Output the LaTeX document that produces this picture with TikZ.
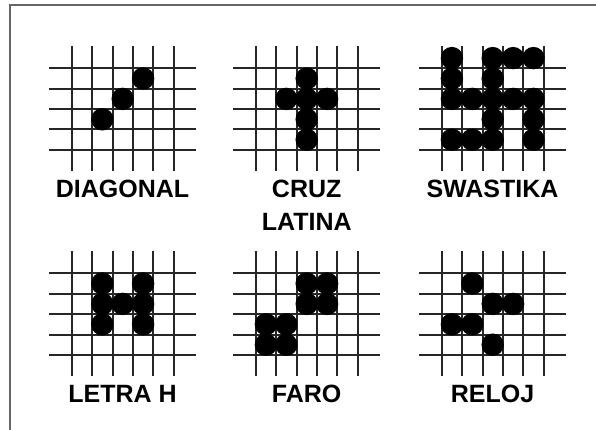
\documentclass[tikz,border=0pt]{standalone}
\usepackage{fontspec}
\setmainfont{Liberation Sans}
\usetikzlibrary{positioning}

\begin{document}
\begin{tikzpicture}[
        x=1pt, y=-1pt,
        rejilla/.style={x=20.4pt, y=-20.4pt},
        linea/.style={line width=2pt, draw=black!85},
        ficha/.style={fill=black},
        marco/.style={line width=2pt, draw=black!60},
        titulo/.style={
            font=\fontsize{25}{33}\selectfont\bfseries,
            align=center,
            inner sep=0pt
        }
    ]
        \useasboundingbox (0,0) rectangle (596,430);
        \draw[marco] (10,430) -- (10,5.5) -- (596,5.5);

        % fila superior
        \begin{scope}[shift={(71.7pt,-68.3pt)}, rejilla]
            \foreach \i in {0,...,5} \draw[linea] (\i,-1.1) -- (\i,5.05);
            \foreach \j in {0,...,4} \draw[linea] (-1.1,\j) -- (6.1,\j);
            \foreach \p in {(1.5,2.5),(2.5,1.5),(3.5,0.5)}
                \fill[ficha] \p circle (0.55);
        \end{scope}
        \begin{scope}[shift={(255.7pt,-68.3pt)}, rejilla]
            \foreach \i in {0,...,5} \draw[linea] (\i,-1.1) -- (\i,5.05);
            \foreach \j in {0,...,4} \draw[linea] (-1.1,\j) -- (6.1,\j);
            \foreach \p in {(2.5,0.5),(1.5,1.5),(2.5,1.5),(3.5,1.5),(2.5,2.5),(2.5,3.5)}
                \fill[ficha] \p circle (0.55);
        \end{scope}
        \begin{scope}[shift={(441.7pt,-68.3pt)}, rejilla]
            \foreach \i in {0,...,5} \draw[linea] (\i,-1.1) -- (\i,5.05);
            \foreach \j in {0,...,4} \draw[linea] (-1.1,\j) -- (6.1,\j);
            \foreach \p in {(0.5,-0.5),(2.5,-0.5),(3.5,-0.5),(4.5,-0.5),
                            (0.5,0.5),(2.5,0.5),
                            (0.5,1.5),(1.5,1.5),(2.5,1.5),(3.5,1.5),(4.5,1.5),
                            (2.5,2.5),(4.5,2.5),
                            (0.5,3.5),(1.5,3.5),(2.5,3.5),(4.5,3.5)}
                \fill[ficha] \p circle (0.55);
        \end{scope}

        % fila inferior
        \begin{scope}[shift={(71.7pt,-273.3pt)}, rejilla]
            \foreach \i in {0,...,5} \draw[linea] (\i,-1.1) -- (\i,5.05);
            \foreach \j in {0,...,4} \draw[linea] (-1.1,\j) -- (6.1,\j);
            \foreach \p in {(1.5,0.5),(1.5,1.5),(1.5,2.5),(2.5,1.5),(3.5,0.5),(3.5,1.5),(3.5,2.5)}
                \fill[ficha] \p circle (0.55);
        \end{scope}
        \begin{scope}[shift={(255.7pt,-273.3pt)}, rejilla]
            \foreach \i in {0,...,5} \draw[linea] (\i,-1.1) -- (\i,5.05);
            \foreach \j in {0,...,4} \draw[linea] (-1.1,\j) -- (6.1,\j);
            \foreach \p in {(2.5,0.5),(3.5,0.5),(2.5,1.5),(3.5,1.5),(0.5,2.5),(1.5,2.5),(0.5,3.5),(1.5,3.5)}
                \fill[ficha] \p circle (0.55);
        \end{scope}
        \begin{scope}[shift={(441.7pt,-273.3pt)}, rejilla]
            \foreach \i in {0,...,5} \draw[linea] (\i,-1.1) -- (\i,5.05);
            \foreach \j in {0,...,4} \draw[linea] (-1.1,\j) -- (6.1,\j);
            \foreach \p in {(1.5,0.5),(2.5,1.5),(3.5,1.5),(0.5,2.5),(1.5,2.5),(2.5,3.5)}
                \fill[ficha] \p circle (0.55);
        \end{scope}

        % rotulos
        \coordinate (pieA) at (122.5,170);
        \coordinate (pieB) at (306.7,170);
        \coordinate (pieC) at (492.5,170);
        \coordinate (pieD) at (122.5,375);
        \coordinate (pieE) at (306.7,375);
        \coordinate (pieF) at (492.5,375);

        \node[titulo, below=10pt of pieA] (diagonal) {DIAGONAL};
        \node[titulo, below=10pt of pieB] (cruz) {CRUZ\\LATINA};
        \node[titulo, below=10pt of pieC] (swastika) {SWASTIKA};
        \node[titulo, below=10pt of pieD] (letrah) {LETRA H};
        \node[titulo, below=10pt of pieE] (faro) {FARO};
        \node[titulo, below=10pt of pieF] (reloj) {RELOJ};
    \end{tikzpicture}
\end{document}
